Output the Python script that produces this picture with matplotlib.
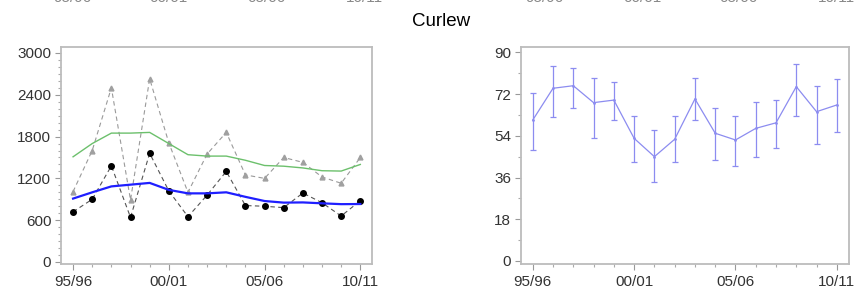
import matplotlib
matplotlib.use("Agg")
import matplotlib.pyplot as plt
import numpy as np
from matplotlib.ticker import MultipleLocator

plt.rcParams['font.family'] = ['Liberation Sans', 'DejaVu Sans']

seasons = ["95/96", "96/97", "97/98", "98/99", "99/00", "00/01", "01/02", "02/03",
           "03/04", "04/05", "05/06", "06/07", "07/08", "08/09", "09/10", "10/11"]
tick_labels = ["95/96", "00/01", "05/06", "10/11"]

counts_black = [720, 900, 1380, 640, 1560, 1020, 650, 960, 1300, 810, 800, 780, 990, 850, 660, 880]
counts_gray = [1010, 1600, 2500, 890, 2630, 1710, 1000, 1550, 1860, 1250, 1200, 1500, 1430, 1220, 1130, 1500]
smooth_green = [1510, 1700, 1850, 1850, 1860, 1700, 1540, 1520, 1520, 1460, 1385, 1375, 1350, 1310, 1305, 1400]
smooth_blue = [910, 1000, 1085, 1110, 1135, 1035, 985, 985, 1000, 935, 875, 852, 855, 842, 830, 832]

index_mean = [60.8, 74.5, 75.6, 68.3, 69.4, 52.9, 45.0, 52.5, 69.9, 55.1, 52.2, 57.2, 59.6, 75.2, 64.4, 67.3]
index_low = [47.9, 62.2, 65.8, 53.2, 60.8, 42.5, 33.9, 42.6, 60.8, 43.6, 41.0, 45.0, 48.6, 62.5, 50.3, 55.5]
index_high = [72.3, 84.2, 83.4, 79.1, 77.3, 62.5, 56.5, 62.5, 79.1, 66.1, 62.5, 68.7, 69.4, 84.9, 75.6, 78.4]

title = "Curlew"

W, H = 867, 297
fig = plt.figure(figsize=(W / 100, H / 100), dpi=100)

def box(l, r, t, b):
    return [l / W, 1 - b / H, (r - l) / W, (b - t) / H]

ax1 = fig.add_axes(box(61, 372, 47, 264))
ax2 = fig.add_axes(box(521, 849, 47, 264))

x = np.arange(len(seasons))
tick_pos = [seasons.index(t) for t in tick_labels]

spine_c = '#bcbcbc'
txt_c = '#333333'

for ax in (ax1, ax2):
    for s in ax.spines.values():
        s.set_color(spine_c)
        s.set_linewidth(1.3)
    ax.set_xticks(tick_pos)
    ax.set_xticklabels(tick_labels)
    ax.set_xticks(x, minor=True)
    ax.tick_params(axis='both', which='major', length=4, width=0.8, color='#999999',
                   labelsize=11, labelcolor=txt_c, pad=3)
    ax.tick_params(axis='both', which='minor', length=2.5, width=0.8, color='#aaaaaa')
    ax.tick_params(axis='x', which='major', pad=4)

# Left panel
ax1.plot(x, counts_gray, linestyle=(0, (4, 3)), color='#9a9a9a', linewidth=0.8,
         marker='^', markersize=3.5, markerfacecolor='#a0a0a0', markeredgecolor='#a0a0a0', zorder=2)
ax1.plot(x, counts_black, linestyle=(0, (4, 3)), color='#555555', linewidth=0.8,
         marker='o', markersize=4, markerfacecolor='black', markeredgecolor='black', zorder=3)
ax1.plot(x, smooth_green, color='#6cc06c', linewidth=1.0, zorder=4)
ax1.plot(x, smooth_blue, color='#1f1fff', linewidth=1.6, zorder=4)
ax1.set_xlim(-0.63, 15.61)
ax1.set_ylim(-29, 3086)
ax1.set_yticks([0, 600, 1200, 1800, 2400, 3000])
ax1.yaxis.set_minor_locator(MultipleLocator(100))

# Right panel
mean = np.array(index_mean)
yerr = [mean - np.array(index_low), np.array(index_high) - mean]
ax2.errorbar(x, mean, yerr=yerr, color='#8c8cf0', linewidth=0.9, elinewidth=0.9,
             capsize=2, capthick=0.9, marker='.', markersize=2)
ax2.set_xlim(-0.58, 15.6)
ax2.set_ylim(-1.3, 92.3)
ax2.set_yticks([0, 18, 36, 54, 72, 90])
ax2.yaxis.set_minor_locator(MultipleLocator(9))

fig.text(441 / W, 1 - 21 / H, title, ha='center', va='center', fontsize=13.5, color='black')

# cut-off tick labels from the chart above (only their bottom edge shows)
top_pos = [72, 169, 267, 364, 544, 642, 739, 836]
for i, px in enumerate(top_pos):
    fig.text(px / W, 1 - 2.5 / H, tick_labels[i % 4], ha='center', va='baseline',
             fontsize=11, color='#888888')

fig.savefig('out.png', dpi=100)
